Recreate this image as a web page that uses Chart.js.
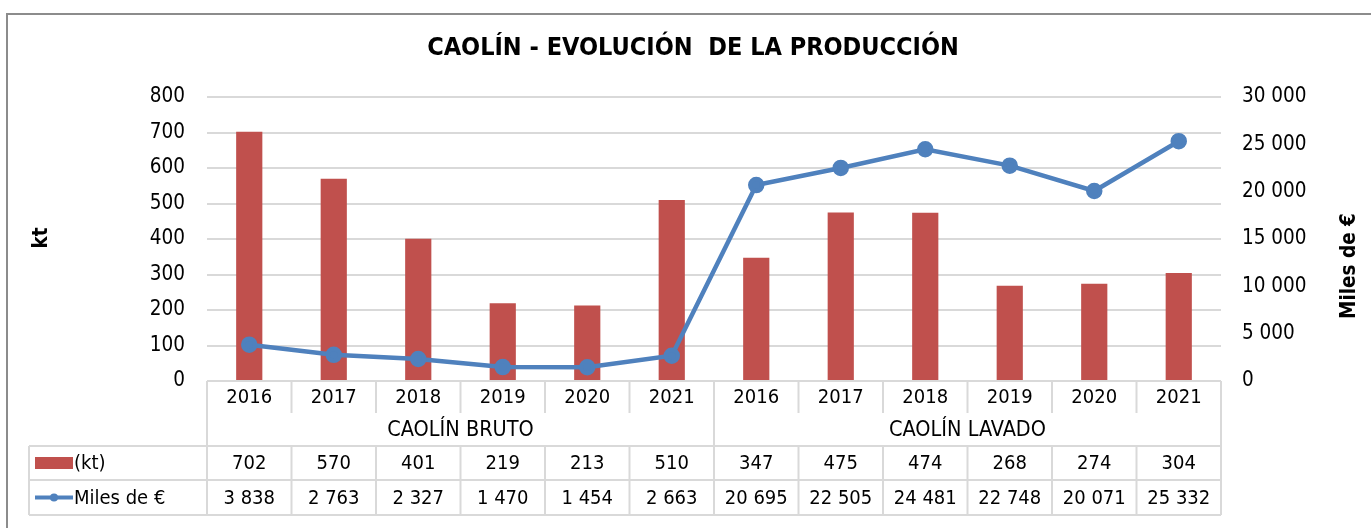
<!DOCTYPE html>
<html>
<head>
<meta charset="utf-8">
<script src="https://cdn.jsdelivr.net/npm/chart.js@4.4.1/dist/chart.umd.min.js"></script>
<style>
  html, body { margin: 0; padding: 0; background: #fff; }
  #wrap { width: 1371px; height: 528px; position: relative; }
</style>
</head>
<body>
<div id="wrap"><canvas id="chart" width="1371" height="528"></canvas></div>
<script>
// data
const years = ['2016', '2017', '2018', '2019', '2020', '2021', '2016', '2017', '2018', '2019', '2020', '2021'];
const groups = ['CAOLÍN BRUTO', 'CAOLÍN LAVADO'];
const kt = [702, 570, 401, 219, 213, 510, 347, 475, 474, 268, 274, 304];
const milesEur = [3838, 2763, 2327, 1470, 1454, 2663, 20695, 22505, 24481, 22748, 20071, 25332];
const ktLabel = '(kt)';
const eurLabel = 'Miles de €';

const RED = '#C0504D';
const BLUE = '#4F81BD';
const GRID = '#D9D9D9';
const FONT = '"DejaVu Sans Condensed", "DejaVu Sans", sans-serif';

// thousands with a space, like the source
const fmt = n => String(n).replace(/\B(?=(\d{3})+(?!\d))/g, ' ');

const tablePlugin = {
    id: 'tablePlugin',
    afterDraw(chart) {
        const ctx = chart.ctx;
        const area = chart.chartArea;
        const xs = chart.scales.x;
        const n = years.length;
        const w = (area.right - area.left) / n;
        const top = area.bottom;
        const yearBottom = top + 32;
        const row1 = top + 65;   // line under group labels
        const row2 = top + 99;
        const row3 = top + 134;
        const tableLeft = 29;

        ctx.save();
        // outer chart frame (only top/left visible in the crop)
        ctx.strokeStyle = '#8C8C8C';
        ctx.lineWidth = 2;
        ctx.beginPath();
        ctx.moveTo(7, 528); ctx.lineTo(7, 14); ctx.lineTo(1371, 14);
        ctx.stroke();

        // title
        ctx.fillStyle = '#000';
        ctx.font = 'bold 25px ' + FONT;
        ctx.textAlign = 'center';
        ctx.textBaseline = 'middle';
        ctx.fillText('CAOLÍN - EVOLUCIÓN  DE LA PRODUCCIÓN', 693, 48);

        // axis titles
        ctx.font = 'bold 20.5px ' + FONT;
        ctx.save();
        ctx.translate(42, 238);
        ctx.rotate(-Math.PI / 2);
        ctx.fillText('kt', 0, 0);
        ctx.restore();
        ctx.save();
        ctx.translate(1350, 266);
        ctx.rotate(-Math.PI / 2);
        ctx.fillText('Miles de €', 0, 0);
        ctx.restore();

        // table grid
        ctx.strokeStyle = GRID;
        ctx.lineWidth = 2;
        ctx.beginPath();
        ctx.moveTo(area.left, top); ctx.lineTo(area.right, top);
        [row1, row2, row3].forEach(y => { ctx.moveTo(tableLeft, y); ctx.lineTo(area.right, y); });
        ctx.moveTo(tableLeft, row1); ctx.lineTo(tableLeft, row3);
        for (let i = 0; i <= n; i++) {
            const x = area.left + i * w;
            if (i === 0 || i === n || i === n / 2) {
                ctx.moveTo(x, top); ctx.lineTo(x, row3);
            } else {
                ctx.moveTo(x, top); ctx.lineTo(x, yearBottom);
                ctx.moveTo(x, row1); ctx.lineTo(x, row3);
            }
        }
        ctx.stroke();

        // table text
        ctx.fillStyle = '#000';
        ctx.font = '20px ' + FONT;
        ctx.textAlign = 'center';
        years.forEach((y, i) => {
            const cx = xs.getPixelForValue(i);
            ctx.fillText(y, cx, top + 17);
            ctx.fillText(fmt(kt[i]), cx, (row1 + row2) / 2 + 1);
            ctx.fillText(fmt(milesEur[i]), cx, (row2 + row3) / 2 + 1);
        });
        ctx.font = '21.5px ' + FONT;
        groups.forEach((g, k) => {
            const cx = area.left + (k + 0.5) * w * n / 2;
            ctx.fillText(g, cx, top + 49);
        });

        // legend keys inside the table
        const ky1 = (row1 + row2) / 2;
        const ky2 = (row2 + row3) / 2;
        ctx.fillStyle = RED;
        ctx.fillRect(35, ky1 - 6, 38, 12);
        ctx.strokeStyle = BLUE;
        ctx.lineWidth = 4;
        ctx.beginPath();
        ctx.moveTo(35, ky2); ctx.lineTo(73, ky2);
        ctx.stroke();
        ctx.fillStyle = BLUE;
        ctx.beginPath();
        ctx.arc(54, ky2, 4, 0, Math.PI * 2);
        ctx.fill();
        ctx.fillStyle = '#000';
        ctx.textAlign = 'left';
        ctx.font = '20px ' + FONT;
        ctx.fillText(ktLabel, 74, ky1 + 1);
        ctx.fillText(eurLabel, 74, ky2 + 1);
        ctx.restore();
    }
};

new Chart(document.getElementById('chart'), {
    type: 'bar',
    data: {
        labels: years,
        datasets: [
            {
                type: 'line',
                label: eurLabel,
                data: milesEur,
                yAxisID: 'y1',
                borderColor: BLUE,
                backgroundColor: BLUE,
                borderWidth: 4.5,
                pointRadius: 6,
                pointBackgroundColor: BLUE,
                pointBorderColor: BLUE,
                tension: 0,
                order: 0
            },
            {
                type: 'bar',
                label: ktLabel,
                data: kt,
                yAxisID: 'y',
                backgroundColor: RED,
                barPercentage: 0.31,
                categoryPercentage: 1,
                order: 1
            }
        ]
    },
    plugins: [tablePlugin],
    options: {
        responsive: false,
        animation: false,
        layout: { padding: { top: 97, bottom: 147, left: 0, right: 0 } },
        plugins: {
            legend: { display: false },
            title: { display: false },
            tooltip: { enabled: false }
        },
        scales: {
            x: { display: false },
            y: {
                position: 'left',
                min: 0, max: 800,
                ticks: { stepSize: 100, padding: 22, color: '#000', font: { family: FONT, size: 20.5 } },
                grid: { color: GRID, lineWidth: 2, drawTicks: false },
                border: { display: false },
                afterFit: s => { s.width = 207; }
            },
            y1: {
                position: 'right',
                min: 0, max: 30000,
                ticks: { stepSize: 5000, padding: 21, color: '#000', font: { family: FONT, size: 20.5 }, callback: v => fmt(v) },
                grid: { display: false, drawTicks: false },
                border: { display: false },
                afterFit: s => { s.width = 150; }
            }
        }
    }
});
</script>
</body>
</html>
